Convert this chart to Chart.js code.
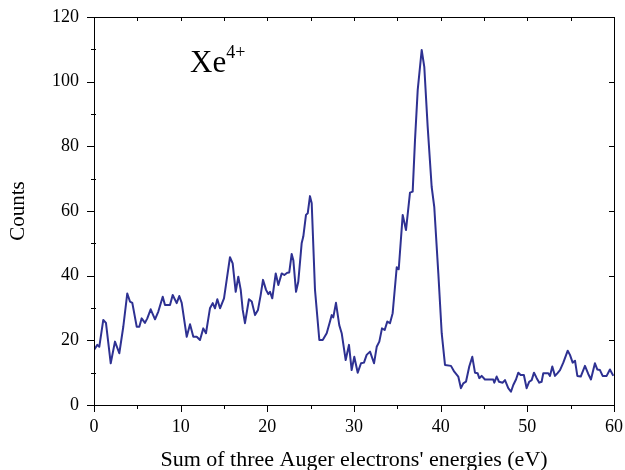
<!DOCTYPE html>
<html>
<head>
<meta charset="utf-8">
<script src="https://cdn.jsdelivr.net/npm/chart.js@4/dist/chart.umd.min.js"></script>
<style>
  html, body { margin: 0; padding: 0; background: #fff; }
  #wrap { position: relative; width: 625px; height: 470px; }
  #label { position: absolute; left: 190px; top: 42px; font-family: 'Liberation Serif', serif; font-size: 31px; color: #000; }
  #label sup { font-size: 18px; vertical-align: 14px; }
</style>
</head>
<body>
<div id="wrap">
  <canvas id="chart" width="625" height="470"></canvas>
  <div id="label">Xe<sup>4+</sup></div>
</div>
<script>
const energies = [
  0.0, 0.38, 0.61, 1.07, 1.38, 1.93, 2.42, 2.92, 3.38, 3.84, 4.15, 4.42, 4.93, 5.23, 5.5, 5.88,
  6.15, 6.54, 7.04, 7.42, 7.93, 8.19, 8.77, 9.08, 9.54, 9.84, 10.12, 10.7, 11.08, 11.46, 11.85,
  12.23, 12.61, 12.92, 13.38, 13.7, 13.96, 14.23, 14.54, 15.0, 15.31, 15.69, 16.0, 16.35, 16.65,
  16.93, 17.16, 17.42, 17.88, 18.2, 18.58, 18.92, 19.23, 19.5, 19.85, 20.11, 20.31, 20.57, 20.97,
  21.27, 21.66, 21.96, 22.3, 22.53, 22.81, 23.0, 23.31, 23.57, 23.96, 24.15, 24.46, 24.66, 24.92,
  25.12, 25.5, 26.0, 26.39, 26.85, 27.23, 27.43, 27.61, 27.92, 28.3, 28.58, 29.04, 29.42, 29.73,
  30.03, 30.43, 30.81, 31.15, 31.46, 31.85, 32.31, 32.62, 32.92, 33.23, 33.54, 33.84, 34.15, 34.46,
  34.93, 35.16, 35.62, 36.0, 36.46, 36.77, 37.04, 37.35, 37.81, 38.11, 38.5, 38.96, 39.26, 39.73,
  40.12, 40.5, 41.19, 41.57, 42.03, 42.34, 42.61, 42.92, 43.3, 43.65, 43.96, 44.27, 44.46, 44.73,
  45.11, 46.07, 46.19, 46.46, 46.73, 47.16, 47.42, 47.8, 48.11, 48.38, 48.69, 48.96, 49.23, 49.6,
  49.92, 50.22, 50.5, 50.77, 51.08, 51.38, 51.65, 51.84, 52.42, 52.61, 52.88, 53.19, 53.46, 53.77,
  54.15, 54.66, 54.92, 55.23, 55.5, 55.77, 56.16, 56.65, 57.03, 57.34, 57.8, 58.07, 58.38, 58.69,
  59.15, 59.53, 59.92
];

const counts = [
  17.0, 18.6, 18.0, 26.3, 25.4, 12.9, 19.6, 16.0, 24.2, 34.5, 32.0, 31.6, 24.2, 24.2, 26.8, 25.4,
  26.8, 29.6, 26.5, 28.9, 33.5, 30.9, 30.9, 34.0, 31.5, 33.7, 31.6, 21.1, 25.0, 21.1, 21.1,
  20.1, 23.7, 22.2, 29.9, 31.5, 29.9, 32.7, 29.9, 33.0, 38.7, 45.7, 43.8, 35.0, 39.7,
  35.6, 29.4, 25.3, 32.7, 32.0, 27.8, 29.4, 34.0, 38.7, 35.6, 34.3, 35.0, 33.0, 40.7,
  37.1, 40.7, 40.2, 40.9, 41.0, 46.7, 44.8, 35.0, 38.1, 50.0, 52.1, 58.8, 59.3, 64.6,
  62.4, 35.6, 20.1, 20.1, 22.2, 25.8, 27.8, 27.1, 31.6, 24.7, 22.2, 13.9, 18.6, 10.8,
  14.9, 10.0, 12.9, 13.1, 15.5, 16.5, 12.9, 18.0, 19.6, 23.7, 23.2, 25.8, 25.3, 28.4,
  42.6, 42.0, 58.8, 54.1, 65.7, 66.0, 82.0, 97.4, 109.8, 104.6, 86.1, 67.5, 61.3, 40.7,
  22.2, 12.4, 12.1, 10.3, 8.8, 5.2, 6.7, 7.2, 11.9, 14.9, 10.0, 9.8, 8.3, 9.0,
  7.9, 7.9, 6.9, 8.8, 7.2, 6.9, 7.7, 5.2, 4.1, 6.2, 7.9, 10.0, 9.3, 9.3,
  5.2, 7.2, 7.7, 10.0, 8.3, 6.9, 7.2, 9.8, 9.8, 9.0, 11.9, 9.0, 9.8, 10.8,
  13.1, 16.8, 15.5, 13.1, 13.7, 9.0, 8.8, 12.1, 9.6, 7.9, 12.9, 11.0, 10.8, 9.0,
  9.0, 11.0, 9.0
];

const xTicks = [0, 10, 20, 30, 40, 50, 60];
const yTicks = [0, 20, 40, 60, 80, 100, 120];

const SERIF = "'Liberation Serif', 'Times New Roman', serif";

// frame + tick marks like the original plot (outer major ticks, inner ones on top/right)
const frameTicks = {
  id: 'frameTicks',
  afterDraw(chart) {
    const { ctx, chartArea: a, scales: { x, y } } = chart;
    ctx.save();
    ctx.strokeStyle = '#000';
    ctx.lineWidth = 1;
    ctx.strokeRect(a.left + 0.5, a.top + 0.5, a.right - a.left, a.bottom - a.top);
    ctx.beginPath();
    for (let v = 0; v <= 60; v += 5) {
      const px = Math.round(x.getPixelForValue(v)) + 0.5;
      const major = v % 10 === 0;
      ctx.moveTo(px, a.bottom);
      ctx.lineTo(px, a.bottom + (major ? 7 : 4));
      if (v > 0 && v < 60) {
        ctx.moveTo(px, a.top);
        ctx.lineTo(px, a.top + 4);
      }
    }
    for (let v = 0; v <= 120; v += 10) {
      const py = Math.round(y.getPixelForValue(v)) + 0.5;
      const major = v % 20 === 0;
      if (major) {
        ctx.moveTo(a.left - 7, py);
        ctx.lineTo(a.left, py);
      } else {
        ctx.moveTo(a.left - 3, py);
        ctx.lineTo(a.left + 2, py);
      }
      if (major && v > 0 && v < 120) {
        ctx.moveTo(a.right, py);
        ctx.lineTo(a.right - 5, py);
      }
    }
    ctx.stroke();
    ctx.restore();
  }
};

new Chart(document.getElementById('chart'), {
  type: 'line',
  data: {
    datasets: [{
      data: energies.map((e, i) => ({ x: e, y: counts[i] })),
      borderColor: '#2e3192',
      borderWidth: 2,
      borderJoinStyle: 'round',
      pointRadius: 0,
      tension: 0,
      fill: false
    }]
  },
  options: {
    responsive: false,
    animation: false,
    layout: { padding: { left: 0, top: 17, right: 11, bottom: 0 } },
    plugins: { legend: { display: false }, tooltip: { enabled: false } },
    scales: {
      x: {
        type: 'linear',
        min: 0,
        max: 60,
        grid: { display: false },
        border: { display: false },
        afterBuildTicks: (s) => { s.ticks = xTicks.map(v => ({ value: v })); },
        afterFit: (s) => { s.height = 65; s.paddingLeft = 0; s.paddingRight = 0; },
        ticks: { color: '#000', padding: 3, maxRotation: 0, font: { family: SERIF, size: 18 } },
        title: {
          display: true,
          text: "Sum of three Auger electrons' energies (eV)",
          color: '#000',
          padding: { top: 6, bottom: -3 },
          font: { family: SERIF, size: 22 }
        }
      },
      y: {
        min: 0,
        max: 120,
        grid: { display: false },
        border: { display: false },
        afterBuildTicks: (s) => { s.ticks = yTicks.map(v => ({ value: v })); },
        afterFit: (s) => { s.width = 94; s.paddingTop = 0; s.paddingBottom = 0; },
        ticks: { color: '#000', padding: 7, font: { family: SERIF, size: 18 } },
        title: {
          display: true,
          text: 'Counts',
          color: '#000',
          padding: { top: 6, bottom: 0 },
          font: { family: SERIF, size: 21 }
        }
      }
    }
  },
  plugins: [frameTicks]
});
</script>
</body>
</html>
